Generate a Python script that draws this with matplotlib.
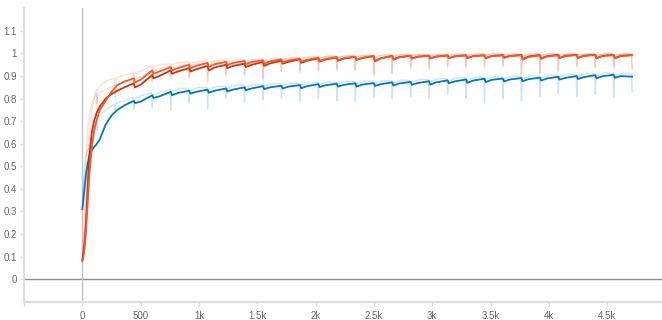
import matplotlib
matplotlib.use("Agg")
from matplotlib import pyplot as plt

# ---- data (step, value) ----
# smoothed curves: early points, then [dip, dip+10, dip+60] for each epoch
smooth_steps = [0, 10, 20, 30, 45, 60, 80, 100, 125, 150, 200, 250, 300, 360,
                441, 451, 501, 600, 610, 660, 758, 768, 818, 916, 926, 976,
                1074, 1084, 1134, 1233, 1243, 1293, 1391, 1401, 1451, 1549, 1559, 1609,
                1707, 1717, 1767, 1866, 1876, 1926, 2024, 2034, 2084, 2182, 2192, 2242,
                2340, 2350, 2400, 2499, 2509, 2559, 2657, 2667, 2717, 2815, 2825, 2875,
                2973, 2983, 3033, 3132, 3142, 3192, 3290, 3300, 3350, 3448, 3458, 3508,
                3606, 3616, 3666, 3765, 3775, 3825, 3923, 3933, 3983, 4081, 4091, 4141,
                4239, 4249, 4299, 4398, 4408, 4458, 4556, 4566, 4616, 4714]

red_smooth = [0.085, 0.12, 0.17, 0.24, 0.40, 0.55, 0.645, 0.70, 0.74, 0.765, 0.80, 0.82, 0.835, 0.85,
              0.868, 0.85, 0.862, 0.905, 0.89, 0.90, 0.925, 0.91, 0.92, 0.935, 0.92, 0.93,
              0.945, 0.925, 0.938, 0.95, 0.935, 0.945, 0.955, 0.94, 0.95, 0.962, 0.945, 0.956,
              0.968, 0.955, 0.963, 0.974, 0.958, 0.968, 0.978, 0.964, 0.973, 0.982, 0.968, 0.977,
              0.985, 0.972, 0.98, 0.988, 0.965, 0.979, 0.989, 0.975, 0.984, 0.99, 0.978, 0.986,
              0.99, 0.978, 0.986, 0.991, 0.98, 0.987, 0.992, 0.98, 0.988, 0.992, 0.979, 0.988,
              0.993, 0.982, 0.989, 0.993, 0.975, 0.987, 0.993, 0.978, 0.988, 0.994, 0.98, 0.99,
              0.994, 0.98, 0.99, 0.994, 0.978, 0.989, 0.994, 0.98, 0.99, 0.993]

orange_smooth = [0.08, 0.10, 0.14, 0.20, 0.33, 0.46, 0.58, 0.655, 0.71, 0.75, 0.79, 0.83, 0.86, 0.875,
                 0.89, 0.872, 0.884, 0.925, 0.91, 0.92, 0.94, 0.925, 0.935, 0.95, 0.935, 0.945,
                 0.958, 0.94, 0.952, 0.963, 0.948, 0.958, 0.967, 0.952, 0.962, 0.97, 0.955, 0.965,
                 0.974, 0.96, 0.969, 0.977, 0.963, 0.972, 0.981, 0.967, 0.976, 0.984, 0.97, 0.979,
                 0.986, 0.972, 0.981, 0.988, 0.968, 0.978, 0.988, 0.972, 0.982, 0.99, 0.977, 0.985,
                 0.99, 0.978, 0.986, 0.991, 0.98, 0.987, 0.991, 0.979, 0.987, 0.992, 0.981, 0.988,
                 0.992, 0.98, 0.988, 0.992, 0.972, 0.984, 0.991, 0.976, 0.986, 0.992, 0.979, 0.988,
                 0.993, 0.981, 0.989, 0.993, 0.98, 0.989, 0.993, 0.978, 0.988, 0.992]

blue_smooth = [0.31, 0.36, 0.41, 0.46, 0.51, 0.545, 0.57, 0.585, 0.60, 0.62, 0.685, 0.725, 0.75, 0.77,
               0.79, 0.78, 0.787, 0.815, 0.803, 0.81, 0.83, 0.815, 0.825, 0.835, 0.822, 0.83,
               0.84, 0.826, 0.835, 0.845, 0.832, 0.84, 0.85, 0.837, 0.845, 0.855, 0.842, 0.85,
               0.857, 0.845, 0.853, 0.86, 0.846, 0.855, 0.864, 0.851, 0.859, 0.866, 0.853, 0.861,
               0.868, 0.853, 0.862, 0.869, 0.856, 0.864, 0.872, 0.858, 0.867, 0.874, 0.861, 0.869,
               0.877, 0.862, 0.872, 0.881, 0.868, 0.876, 0.885, 0.87, 0.88, 0.888, 0.873, 0.883,
               0.889, 0.876, 0.885, 0.891, 0.877, 0.886, 0.893, 0.88, 0.889, 0.897, 0.884, 0.892,
               0.90, 0.887, 0.895, 0.904, 0.89, 0.899, 0.906, 0.892, 0.90, 0.897]

# raw curves: early points, then [dip-5, dip, dip+6, dip+75] for each epoch
raw_steps = [0, 10, 20, 30, 40, 50, 60, 70, 80, 90, 100, 110, 120, 125, 131, 160, 200, 240,
             278, 283, 289, 330, 380, 436, 441, 447, 515,
             595, 600, 606, 675, 753, 758, 764, 835, 911, 916, 922, 995,
             1069, 1074, 1080, 1155, 1228, 1233, 1239, 1310, 1386, 1391, 1397, 1470,
             1544, 1549, 1555, 1630, 1702, 1707, 1713, 1785, 1861, 1866, 1872, 1945,
             2019, 2024, 2030, 2105, 2177, 2182, 2188, 2260, 2335, 2340, 2346, 2420,
             2494, 2499, 2505, 2580, 2652, 2657, 2663, 2735, 2810, 2815, 2821, 2895,
             2968, 2973, 2979, 3055, 3127, 3132, 3138, 3210, 3285, 3290, 3296, 3370,
             3443, 3448, 3454, 3525, 3601, 3606, 3612, 3685, 3760, 3765, 3771, 3845,
             3918, 3923, 3929, 4000, 4076, 4081, 4087, 4160, 4234, 4239, 4245, 4320,
             4393, 4398, 4404, 4475, 4551, 4556, 4562, 4635, 4709, 4714]

red_raw = [0.09, 0.19, 0.33, 0.48, 0.60, 0.68, 0.73, 0.75, 0.78, 0.79, 0.80, 0.81, 0.82, 0.74, 0.81,
           0.83, 0.84, 0.85, 0.86, 0.80, 0.855, 0.87, 0.875, 0.89, 0.84, 0.885, 0.90,
           0.925, 0.87, 0.92, 0.935, 0.94, 0.89, 0.935, 0.945, 0.95, 0.90, 0.945, 0.955,
           0.955, 0.87, 0.95, 0.96, 0.96, 0.90, 0.955, 0.962, 0.962, 0.91, 0.958, 0.965,
           0.968, 0.88, 0.962, 0.972, 0.975, 0.92, 0.97, 0.978, 0.98, 0.915, 0.975, 0.983,
           0.985, 0.925, 0.98, 0.987, 0.987, 0.92, 0.982, 0.99, 0.99, 0.93, 0.985, 0.992,
           0.993, 0.90, 0.985, 0.994, 0.994, 0.91, 0.99, 0.995, 0.995, 0.93, 0.99, 0.996,
           0.995, 0.94, 0.99, 0.996, 0.996, 0.94, 0.992, 0.997, 0.996, 0.945, 0.99, 0.997,
           0.997, 0.935, 0.992, 0.998, 0.997, 0.95, 0.993, 0.998, 0.997, 0.90, 0.99, 0.998,
           0.998, 0.91, 0.993, 0.998, 0.998, 0.92, 0.993, 0.998, 0.998, 0.94, 0.993, 0.998,
           0.998, 0.935, 0.992, 0.998, 0.998, 0.945, 0.993, 0.998, 0.998, 0.93]

orange_raw = [0.08, 0.13, 0.22, 0.33, 0.45, 0.55, 0.63, 0.69, 0.74, 0.77, 0.80, 0.82, 0.84, 0.78, 0.84,
              0.86, 0.875, 0.885, 0.89, 0.83, 0.89, 0.90, 0.905, 0.915, 0.86, 0.91, 0.925,
              0.945, 0.88, 0.94, 0.95, 0.955, 0.90, 0.95, 0.96, 0.962, 0.89, 0.955, 0.965,
              0.965, 0.90, 0.96, 0.968, 0.97, 0.91, 0.965, 0.972, 0.972, 0.90, 0.967, 0.975,
              0.975, 0.89, 0.97, 0.978, 0.978, 0.92, 0.974, 0.982, 0.982, 0.925, 0.978, 0.985,
              0.986, 0.92, 0.98, 0.988, 0.988, 0.935, 0.983, 0.99, 0.99, 0.925, 0.985, 0.992,
              0.992, 0.91, 0.98, 0.993, 0.993, 0.915, 0.988, 0.994, 0.994, 0.94, 0.99, 0.995,
              0.995, 0.93, 0.99, 0.996, 0.996, 0.945, 0.99, 0.997, 0.996, 0.935, 0.99, 0.997,
              0.996, 0.95, 0.992, 0.997, 0.997, 0.94, 0.992, 0.998, 0.997, 0.905, 0.985, 0.998,
              0.997, 0.915, 0.99, 0.998, 0.998, 0.925, 0.993, 0.998, 0.998, 0.945, 0.993, 0.998,
              0.998, 0.94, 0.992, 0.998, 0.998, 0.93, 0.992, 0.998, 0.998, 0.935]

blue_raw = [0.32, 0.42, 0.50, 0.55, 0.57, 0.575, 0.58, 0.60, 0.61, 0.63, 0.65, 0.68, 0.70, 0.66, 0.71,
            0.73, 0.75, 0.765, 0.775, 0.74, 0.78, 0.785, 0.795, 0.805, 0.75, 0.80, 0.815,
            0.825, 0.76, 0.815, 0.83, 0.84, 0.75, 0.83, 0.845, 0.845, 0.78, 0.835, 0.85,
            0.85, 0.755, 0.84, 0.855, 0.855, 0.80, 0.845, 0.86, 0.86, 0.785, 0.85, 0.862,
            0.862, 0.795, 0.855, 0.866, 0.865, 0.80, 0.858, 0.868, 0.868, 0.79, 0.86, 0.872,
            0.87, 0.80, 0.862, 0.875, 0.872, 0.79, 0.864, 0.876, 0.874, 0.79, 0.866, 0.878,
            0.876, 0.81, 0.866, 0.88, 0.878, 0.80, 0.87, 0.882, 0.88, 0.81, 0.872, 0.885,
            0.884, 0.80, 0.875, 0.888, 0.888, 0.82, 0.878, 0.892, 0.892, 0.80, 0.882, 0.895,
            0.894, 0.78, 0.885, 0.897, 0.896, 0.80, 0.886, 0.90, 0.898, 0.79, 0.888, 0.902,
            0.90, 0.81, 0.89, 0.905, 0.904, 0.82, 0.895, 0.908, 0.906, 0.81, 0.897, 0.912,
            0.91, 0.82, 0.90, 0.915, 0.912, 0.81, 0.902, 0.912, 0.91, 0.83]

y_ticks = [0, 0.1, 0.2, 0.3, 0.4, 0.5, 0.6, 0.7, 0.8, 0.9, 1.0, 1.1]
y_labels = ["0", "0.1", "0.2", "0.3", "0.4", "0.5", "0.6", "0.7", "0.8", "0.9", "1", "1.1"]
x_ticks = [-500, 0, 500, 1000, 1500, 2000, 2500, 3000, 3500, 4000, 4500]
x_labels = ["", "0", "500", "1k", "1.5k", "2k", "2.5k", "3k", "3.5k", "4k", "4.5k"]

RED = "#cc3311"
ORANGE = "#f05a28"
BLUE = "#0077bb"

plt.rcParams["font.family"] = ["Liberation Sans", "DejaVu Sans"]

fig = plt.figure(figsize=(6.62, 3.2), dpi=100)
ax = fig.add_axes([0.0363, 0.057, 0.9637, 0.917])

# faint raw lines first, smoothed on top
ax.plot(raw_steps, blue_raw, color=BLUE, alpha=0.2, lw=1.0)
ax.plot(raw_steps, red_raw, color=RED, alpha=0.15, lw=1.0)
ax.plot(raw_steps, orange_raw, color=ORANGE, alpha=0.2, lw=1.0)
ax.plot(smooth_steps, blue_smooth, color=BLUE, lw=1.3)
ax.plot(smooth_steps, red_smooth, color=RED, lw=1.3)
ax.plot(smooth_steps, orange_smooth, color=ORANGE, lw=1.3)

ax.axhline(0, color="#8c8c8c", lw=1.0, zorder=0)
ax.axvline(0, color="#c4c4c4", lw=1.0, zorder=0)

ax.set_xlim(-500, 4970)
ax.set_ylim(-0.1, 1.2)
ax.set_xticks(x_ticks)
ax.set_xticklabels(x_labels)
ax.set_yticks(y_ticks)
ax.set_yticklabels(y_labels)

for side in ["top", "right"]:
    ax.spines[side].set_visible(False)
for side in ["left", "bottom"]:
    ax.spines[side].set_color("#dddddd")
    ax.spines[side].set_linewidth(1.5)

ax.tick_params(axis="both", colors="#dddddd", labelcolor="#666666", labelsize=7,
               length=3, width=1)
ax.tick_params(axis="y", pad=2)
ax.tick_params(axis="x", pad=4)

fig.savefig("out.png", dpi=100)
